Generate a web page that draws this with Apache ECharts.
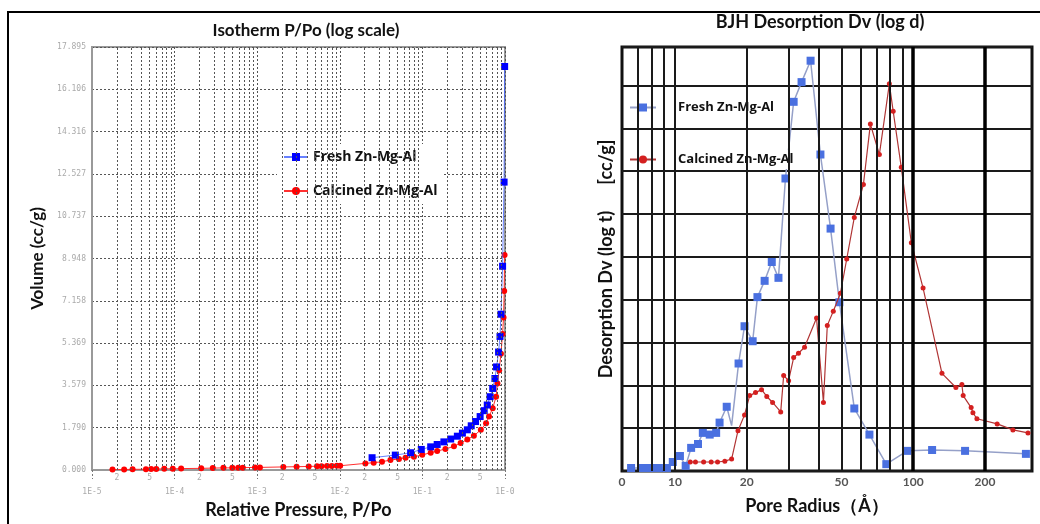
<!DOCTYPE html>
<html>
<head>
<meta charset="utf-8">
<script src="https://cdn.jsdelivr.net/npm/echarts@6/dist/echarts.min.js"></script>
<style>
  html, body { margin: 0; padding: 0; background: #fff; }
  #chart { width: 1040px; height: 524px; }
</style>
</head>
<body>
<div id="chart"></div>
<script>
// ---- Isotherm: relative pressure P/Po and adsorbed volume (cc/g) ----
const isoFreshP = [0.0246, 0.047, 0.072, 0.097, 0.126, 0.151, 0.182, 0.22, 0.265, 0.305, 0.35, 0.39, 0.44, 0.50,
  0.56, 0.61, 0.66, 0.71, 0.755, 0.79, 0.836, 0.87, 0.893, 0.935, 0.975, 0.99];
const isoFreshV = [0.52, 0.63, 0.73, 0.87, 0.98, 1.08, 1.19, 1.31, 1.43, 1.56, 1.70, 1.87, 2.05, 2.26,
  2.51, 2.75, 3.10, 3.45, 3.87, 4.36, 4.99, 5.65, 6.59, 8.62, 12.18, 17.07];

const isoCalcP = [1.77e-5, 2.45e-5, 3.1e-5, 4.5e-5, 5.2e-5, 6e-5, 7.5e-5, 9.5e-5, 1.2e-4, 2.1e-4, 2.9e-4, 3.9e-4,
  5.0e-4, 5.9e-4, 6.7e-4, 9.4e-4, 1.08e-3, 2.07e-3, 3.0e-3, 4.2e-3, 5.3e-3, 6.0e-3, 7.0e-3, 8.0e-3, 9.2e-3, 1.01e-2,
  2.04e-2, 2.57e-2, 3.24e-2, 4.1e-2, 5.2e-2, 6.25e-2, 7.9e-2, 0.0995, 0.126, 0.151, 0.19, 0.241, 0.29, 0.35, 0.42,
  0.51, 0.59, 0.64, 0.71, 0.78, 0.81, 0.85, 0.893, 0.935, 0.96, 0.978, 0.988];
const isoCalcV = [0.02, 0.02, 0.03, 0.03, 0.04, 0.04, 0.05, 0.05, 0.06, 0.07, 0.08, 0.09,
  0.09, 0.10, 0.10, 0.11, 0.11, 0.13, 0.14, 0.15, 0.16, 0.16, 0.17, 0.17, 0.18, 0.18,
  0.28, 0.31, 0.35, 0.42, 0.47, 0.52, 0.56, 0.64, 0.73, 0.80, 0.89, 1.00, 1.14, 1.29, 1.45,
  1.70, 1.98, 2.26, 2.61, 3.10, 3.66, 4.22, 4.92, 5.75, 6.45, 7.57, 9.10];

const volumeMax = 17.895;
const volumeTickLabels = ['0.000', '1.790', '3.579', '5.369', '7.158', '8.948', '10.737', '12.527', '14.316', '16.106', '17.895'];
const pressureDecades = [1e-5, 1e-4, 1e-3, 1e-2, 1e-1];
const pressureMinorLabelled = [2, 5];

// ---- BJH desorption: pore radius (Å) and Dv (log d) ----
const bjhFreshR = [6.55, 7.35, 7.94, 8.57, 9.26, 9.8, 10.5, 11.1, 11.7, 12.5, 13.1, 14.0, 14.9, 15.4, 16.5, 17.3,
  18.5, 19.6, 21.2, 22.2, 23.8, 25.5, 27.2, 29.1, 31.5, 34.0, 37.1, 40.8, 45.0, 49.0, 56.6, 65.5, 77.1, 94.4, 120, 165, 297];
const bjhFreshDv = [0.07, 0.07, 0.07, 0.07, 0.07, 0.21, 0.35, 0.12, 0.54, 0.63, 0.89, 0.85, 0.89, 1.13, 1.50, 1.06,
  2.51, 3.38, 3.03, 4.06, 4.44, 4.88, 4.51, 6.83, 8.62, 9.08, 9.58, 7.39, 5.66, 3.94, 1.46, 0.85, 0.16, 0.47, 0.49, 0.47, 0.40];
const bjhFreshHidden = [15];   // vertex drawn without a marker

const bjhCalcR = [11.6, 12.2, 13.2, 14.2, 15.1, 16.2, 17.3, 18.4, 19.6, 20.6, 21.8, 23.1, 24.3, 25.7, 27.8, 28.6,
  30.0, 31.5, 33.0, 35.0, 39.3, 42.0, 43.6, 46.2, 49.5, 52.6, 56.6, 61.8, 66.1, 72.1, 79.4, 82.4, 89.1, 98.2,
  110, 132, 151, 160, 162, 175, 178, 185, 225, 262, 303];
const bjhCalcDv = [0.21, 0.21, 0.21, 0.21, 0.21, 0.23, 0.28, 0.94, 1.31, 1.76, 1.83, 1.90, 1.74, 1.60, 1.38, 2.23,
  2.11, 2.65, 2.75, 2.89, 3.57, 1.60, 3.40, 3.73, 4.15, 4.95, 5.92, 6.69, 8.10, 7.39, 9.04, 8.40, 7.09, 5.33,
  4.27, 2.28, 1.95, 2.02, 1.76, 1.48, 1.36, 1.22, 1.10, 0.96, 0.89];

const radiusTickValues = [6, 10, 20, 50, 100, 200];
const radiusTickLabels = ['0', '10', '20', '50', '100', '200'];
const radiusGridValues = [7, 8, 9, 10, 20, 30, 40, 50, 60, 70, 80, 90];
const radiusHeavyGridValues = [100, 200];

const FONT = 'Lato, "Open Sans", sans-serif';
const LEGEND_FONT = '"Open Sans", Lato, sans-serif';
const MONO = '"DejaVu Sans Mono", monospace';
const pairs = (xs, ys) => xs.map((x, i) => [x, ys[i]]);

// minor pressure grid lines (2..9 x decade), labelled at 2 and 5
const pressureMinorLines = [];
pressureDecades.forEach(d => {
  for (let m = 2; m <= 9; m++) {
    const show = pressureMinorLabelled.indexOf(m) >= 0;
    pressureMinorLines.push({ xAxis: m * d, label: { show: show, formatter: String(m) } });
  }
});

const freshBjhData = pairs(bjhFreshR, bjhFreshDv).map((p, i) =>
  bjhFreshHidden.indexOf(i) >= 0 ? { value: p, symbol: 'none' } : p);

const chart = echarts.init(document.getElementById('chart'), null, { renderer: 'canvas' });

chart.setOption({
  animation: false,
  backgroundColor: '#fff',
  title: [
    { text: 'Isotherm P/Po (log scale)', left: 306, top: 22, textAlign: 'center', padding: 0,
      textStyle: { fontFamily: FONT, fontWeight: 'bold', fontSize: 17, color: '#111' } },
    { text: 'BJH Desorption Dv (log d)', left: 820, top: 13, textAlign: 'center', padding: 0,
      textStyle: { fontFamily: FONT, fontWeight: 'bold', fontSize: 18, color: '#111' } }
  ],
  graphic: [
    { type: 'rect', shape: { x: 8, y: 12, width: 1040, height: 520 },
      style: { fill: null, stroke: '#000', lineWidth: 2 }, z: 10 }
  ],
  legend: [
    {
      data: ['Fresh Zn-Mg-Al', 'Calcined Zn-Mg-Al'],
      orient: 'vertical', left: 277, top: 144,
      itemWidth: 24, itemHeight: 10, itemGap: 20,
      backgroundColor: '#fff', padding: [6, 6],
      selectedMode: false,
      textStyle: { fontFamily: LEGEND_FONT, fontWeight: 700, fontSize: 14, color: '#111' }
    },
    {
      data: ['BJH Fresh Zn-Mg-Al', 'BJH Calcined Zn-Mg-Al'],
      orient: 'vertical', left: 624, top: 93,
      itemWidth: 26, itemHeight: 10, itemGap: 33,
      selectedMode: false,
      formatter: name => '{g|}{t|' + name.replace('BJH ', '') + '}',
      textStyle: {
        rich: {
          g: { width: 14 },
          t: { fontFamily: LEGEND_FONT, fontWeight: 700, fontSize: 13, color: '#111',
               backgroundColor: '#fff', padding: [3, 3] }
        }
      }
    }
  ],
  grid: [
    { left: 92, right: 535, top: 47, bottom: 50, show: true, borderColor: '#999', borderWidth: 2 },
    { left: 622, right: 8, top: 47, bottom: 53, show: true, borderColor: '#111', borderWidth: 3 }
  ],
  xAxis: [
    {
      gridIndex: 0, type: 'log', logBase: 10, min: 1e-5, max: 1, splitNumber: 5,
      name: 'Relative Pressure, P/Po', nameLocation: 'middle', nameGap: 31,
      nameTextStyle: { fontFamily: FONT, fontWeight: 'bold', fontSize: 18, color: '#111' },
      axisLine: { lineStyle: { color: '#999', width: 2 } },
      axisTick: { show: true, length: 9, lineStyle: { color: '#777', type: [2, 2] } },
      axisLabel: { margin: 18, fontSize: 8, color: '#aaa', fontFamily: MONO,
                   formatter: v => '1E-' + Math.round(-Math.log10(v)) },
      splitLine: { show: true, lineStyle: { color: '#555', type: [2, 2], width: 1 } }
    },
    {
      gridIndex: 1, type: 'log', logBase: 10, min: 6, max: 315,
      name: 'Pore Radius（Å）', nameLocation: 'middle', nameGap: 26,
      nameTextStyle: { fontFamily: FONT, fontWeight: 'bold', fontSize: 18, color: '#111', padding: [0, 20, 0, 0] },
      axisLine: { show: false }, axisTick: { show: false }, axisLabel: { show: false },
      splitLine: { show: false }
    }
  ],
  yAxis: [
    {
      gridIndex: 0, type: 'value', min: 0, max: volumeMax, interval: volumeMax / 10,
      name: 'Volume (cc/g)', nameLocation: 'middle', nameGap: 46,
      nameTextStyle: { fontFamily: FONT, fontWeight: 'bold', fontSize: 17, color: '#111' },
      axisLine: { show: true, lineStyle: { color: '#999', width: 2 } },
      axisTick: { show: false },
      axisLabel: { margin: 6, fontSize: 8, color: '#aaa', fontFamily: MONO,
                   formatter: v => volumeTickLabels[Math.round(v / (volumeMax / 10))] },
      splitLine: { show: true, lineStyle: { color: '#555', type: [2, 2], width: 1 } }
    },
    {
      gridIndex: 1, type: 'value', min: 0, max: 9.9, interval: 1,
      name: 'Desorption Dv (log t)      [cc/g]', nameLocation: 'middle', nameGap: 7,
      nameTextStyle: { fontFamily: FONT, fontWeight: 'bold', fontSize: 18, color: '#111' },
      axisLine: { show: false }, axisTick: { show: false }, axisLabel: { show: false },
      splitLine: { show: true, lineStyle: { color: '#1a1a1a', width: 2 } }
    }
  ],
  series: [
    // minor pressure grid lines with 2 / 5 labels
    {
      name: 'pressure-minor', type: 'line', xAxisIndex: 0, yAxisIndex: 0, data: [], z: 1,
      markLine: {
        silent: true, symbol: ['none', 'none'], animation: false, precision: 12,
        lineStyle: { color: '#555', type: [2, 2], width: 1 },
        label: { position: 'start', distance: 4, fontSize: 8, color: '#aaa', fontFamily: MONO },
        data: pressureMinorLines
      }
    },
    {
      name: 'Calcined Zn-Mg-Al', type: 'line', xAxisIndex: 0, yAxisIndex: 0, z: 3,
      data: pairs(isoCalcP, isoCalcV),
      symbol: 'circle', symbolSize: 6,
      itemStyle: { color: '#ff0000' }, lineStyle: { color: '#ff3030', width: 1 }
    },
    {
      name: 'Fresh Zn-Mg-Al', type: 'line', xAxisIndex: 0, yAxisIndex: 0, z: 4,
      data: pairs(isoFreshP, isoFreshV),
      symbol: 'rect', symbolSize: 7,
      itemStyle: { color: '#0000ff' }, lineStyle: { color: '#4060ff', width: 1, opacity: 0.8 }
    },
    // radius grid lines and tick labels
    {
      name: 'radius-grid', type: 'line', xAxisIndex: 1, yAxisIndex: 1, data: [], z: 1,
      markLine: {
        silent: true, symbol: ['none', 'none'], animation: false, precision: 6,
        label: { show: false },
        data: radiusGridValues.map(v => ({ xAxis: v, lineStyle: { color: '#1a1a1a', width: 2, type: 'solid' } }))
          .concat(radiusHeavyGridValues.map(v => ({ xAxis: v, lineStyle: { color: '#000', width: 3.5, type: 'solid' } })))
          .concat(radiusTickValues.map((v, i) => ({
            xAxis: v, lineStyle: { color: 'rgba(0,0,0,0)', width: 0 },
            label: { show: true, position: 'start', distance: 5, formatter: radiusTickLabels[i],
                     fontFamily: FONT, fontSize: 12, fontWeight: 'bold', color: '#555' }
          })))
      }
    },
    {
      name: 'BJH Fresh Zn-Mg-Al', type: 'line', xAxisIndex: 1, yAxisIndex: 1, z: 3,
      data: freshBjhData,
      symbol: 'rect', symbolSize: 8,
      itemStyle: { color: '#4a70e0' }, lineStyle: { color: '#95a0c8', width: 1.5 }
    },
    {
      name: 'BJH Calcined Zn-Mg-Al', type: 'line', xAxisIndex: 1, yAxisIndex: 1, z: 4,
      data: pairs(bjhCalcR, bjhCalcDv),
      symbol: 'circle', symbolSize: 5,
      itemStyle: { color: '#d42020' }, lineStyle: { color: '#b03535', width: 1.2 }
    }
  ]
});
</script>
</body>
</html>
